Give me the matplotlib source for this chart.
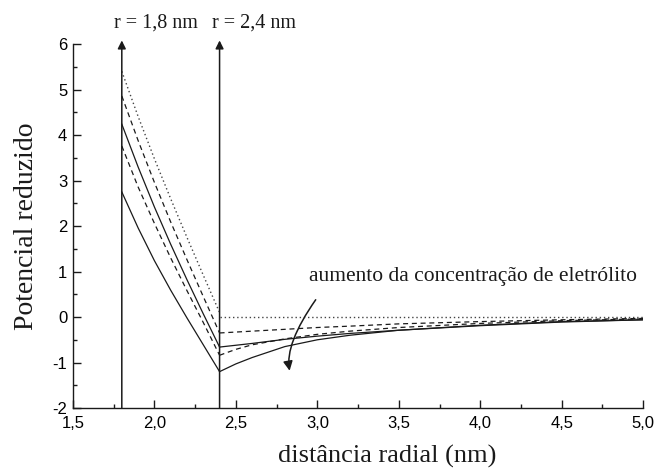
import matplotlib
matplotlib.use("Agg")
import matplotlib.pyplot as plt
from matplotlib.ticker import MultipleLocator, FixedLocator

# raio interno (1,8 nm) ate a superficie (2,4 nm)
r_in = [1.8, 1.9, 2.0, 2.1, 2.2, 2.3, 2.4]
# da superficie (2,4 nm) ate 5,0 nm
r_out = [2.4, 2.5, 2.6, 2.8, 3.0, 3.2, 3.5, 4.0, 4.5, 5.0]

# cinco curvas, da menor para a maior concentracao
pot_in_1 = [5.40, 4.41, 3.48, 2.60, 1.75, 0.92, 0.10]
pot_out_1 = [0.0, 0.0, 0.0, 0.0, 0.0, 0.0, 0.0, 0.0, 0.0, 0.0]

pot_in_2 = [4.86, 3.88, 2.96, 2.09, 1.26, 0.45, -0.35]
pot_out_2 = [-0.35, -0.33, -0.31, -0.27, -0.23, -0.20, -0.15, -0.10, -0.06, -0.03]

pot_in_3 = [4.24, 3.30, 2.42, 1.60, 0.82, 0.07, -0.66]
pot_out_3 = [-0.66, -0.62, -0.58, -0.49, -0.42, -0.36, -0.29, -0.19, -0.11, -0.06]

pot_in_4 = [3.76, 2.86, 2.06, 1.30, 0.58, -0.12, -0.84]
pot_out_4 = [-0.84, -0.71, -0.61, -0.48, -0.38, -0.31, -0.23, -0.14, -0.08, -0.04]

pot_in_5 = [2.75, 1.96, 1.24, 0.59, -0.02, -0.61, -1.20]
pot_out_5 = [-1.20, -1.03, -0.89, -0.65, -0.50, -0.40, -0.29, -0.18, -0.10, -0.06]

x_ticks = [1.5, 2.0, 2.5, 3.0, 3.5, 4.0, 4.5, 5.0]
x_labels = ["1,5", "2,0", "2,5", "3,0", "3,5", "4,0", "4,5", "5,0"]
y_ticks = [-2, -1, 0, 1, 2, 3, 4, 5, 6]
y_labels = ["-2", "-1", "0", "1", "2", "3", "4", "5", "6"]

serif = ["Liberation Serif", "DejaVu Serif"]
sans = ["Liberation Sans", "DejaVu Sans"]
ink = "#1a1a1a"

fig = plt.figure(figsize=(6.57, 4.69), dpi=100)
ax = fig.add_axes([0.111, 0.130, 0.868, 0.776])

styles = [
    dict(linestyle=(0, (1, 2)), color="#444444", linewidth=1.0),
    dict(linestyle=(0, (4, 3)), color=ink, linewidth=0.9),
    dict(linestyle="-", color=ink, linewidth=0.9),
    dict(linestyle=(0, (4, 3)), color=ink, linewidth=0.9),
    dict(linestyle="-", color=ink, linewidth=0.9),
]
curves = [
    (pot_in_1, pot_out_1),
    (pot_in_2, pot_out_2),
    (pot_in_3, pot_out_3),
    (pot_in_4, pot_out_4),
    (pot_in_5, pot_out_5),
]
for (p_in, p_out), st in zip(curves, styles):
    ax.plot(r_in, p_in, **st)
    ax.plot(r_out, p_out, **st)

# setas verticais em r = 1,8 nm e r = 2,4 nm
for r0, label in [(1.8, "r = 1,8 nm"), (2.4, "r = 2,4 nm")]:
    ax.annotate("", xy=(r0, 6.08), xytext=(r0, -2.0),
                arrowprops=dict(arrowstyle="-|>", color=ink, lw=1.1,
                                mutation_scale=12, shrinkA=0, shrinkB=0),
                annotation_clip=False)
    ax.text(r0 - 0.045, 6.46, label, family=serif, fontsize=14.5,
            ha="left", va="center", color=ink)

# seta curva
ax.annotate("", xy=(2.83, -1.18), xytext=(2.99, 0.38),
            arrowprops=dict(arrowstyle="-|>", color=ink, lw=1.1,
                            mutation_scale=14, shrinkA=0, shrinkB=0,
                            connectionstyle="angle3,angleA=-125,angleB=100"))
ax.text(2.95, 0.89, "aumento da concentração de eletrólito", family=serif,
        fontsize=15.5, ha="left", va="center", color=ink)

ax.set_xlim(1.5, 5.0)
ax.set_ylim(-2, 6)
ax.xaxis.set_major_locator(FixedLocator(x_ticks))
ax.xaxis.set_minor_locator(MultipleLocator(0.25))
ax.yaxis.set_major_locator(FixedLocator(y_ticks))
ax.yaxis.set_minor_locator(MultipleLocator(0.5))
ax.set_xticklabels(x_labels, family=sans, fontsize=12)
ax.set_yticklabels(y_labels, family=sans, fontsize=12)
ax.tick_params(which="both", direction="in", color=ink, width=1.0)
ax.tick_params(axis="x", which="major", length=6, pad=6)
ax.tick_params(axis="y", which="major", length=6, pad=4)
ax.tick_params(which="minor", length=3)

for side in ["top", "right"]:
    ax.spines[side].set_visible(False)
for side in ["left", "bottom"]:
    ax.spines[side].set_color(ink)
    ax.spines[side].set_linewidth(1.0)

ax.set_xlabel("distância radial (nm)", family=serif, fontsize=19, color=ink, labelpad=6)
ax.xaxis.set_label_coords(0.551, -0.10)
ax.set_ylabel("Potencial reduzido", family=serif, fontsize=20, color=ink, labelpad=10)

fig.savefig("out.png", dpi=100)
